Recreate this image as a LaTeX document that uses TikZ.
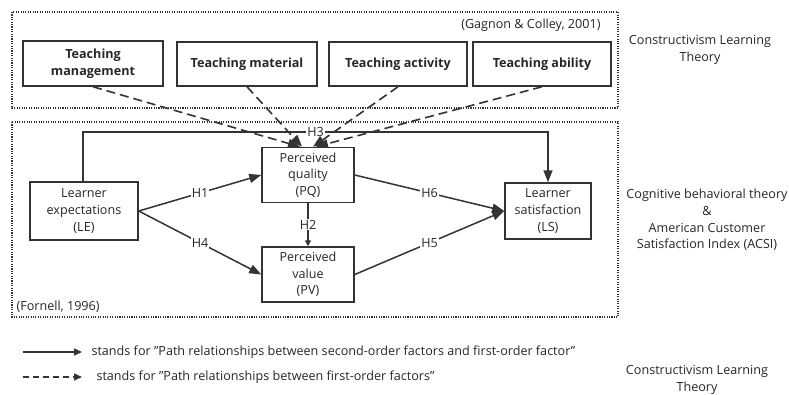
\documentclass[tikz,border=0pt]{standalone}
\usepackage{fontspec}
\setmainfont{Open Sans}[Ligatures=ResetAll]
\usetikzlibrary{arrows.meta}

\begin{document}
\begin{tikzpicture}[x=1pt,y=-1pt,
  font=\fontsize{12.6}{16.6}\selectfont,
  every node/.style={text=black!85},
  box/.style={draw=black!80,line width=1.5pt,align=center,inner sep=0pt},
  frame/.style={draw=black!80,line width=1.1pt,dash pattern=on 1.1pt off 1.3pt},
  path/.style={draw=black!80,line width=1.5pt,-{Triangle[length=12pt,width=9pt]}},
  firstorder/.style={path,line width=1.6pt,dash pattern=on 9pt off 5pt},
  hyp/.style={fill=white,inner sep=1pt}]
\useasboundingbox (0,0) rectangle (789,394);

% frames
\draw[frame] (12,12) rectangle (618,108);
\draw[frame] (12,122) rectangle (618,317);
\node (gc) at (604,25) [anchor=east] {(Gagnon \& Colley, 2001)};
\node (fo) at (13,307) [anchor=west] {(Fornell, 1996)};

% first-order factors
\node[box,minimum width=140pt,minimum height=45pt,font=\fontsize{12.6}{16.6}\selectfont\bfseries] (tm) at (93,63.5) {Teaching\\management};
\node[box,minimum width=140pt,minimum height=44pt,font=\fontsize{12.6}{16.6}\selectfont\bfseries] (tmat) at (247,64) {Teaching material};
\node[box,minimum width=138pt,minimum height=44pt,font=\fontsize{12.6}{16.6}\selectfont\bfseries] (tact) at (398,64) {Teaching activity};
\node[box,minimum width=138pt,minimum height=44pt,font=\fontsize{12.6}{16.6}\selectfont\bfseries] (tab) at (542,64) {Teaching ability};

% second-order factors
\node[box,minimum width=108pt,minimum height=58pt] (le) at (84,211) {Learner\\expectations\\(LE)};
\node[box,minimum width=92pt,minimum height=55pt] (pq) at (308,175) {Perceived\\quality\\(PQ)};
\node[box,minimum width=92pt,minimum height=55pt] (pv) at (308,274.5) {Perceived\\value\\(PV)};
\node[box,minimum width=86pt,minimum height=56pt] (ls) at (548,211) {Learner\\satisfaction\\(LS)};

\draw[path] (le.north -| 83,0) -- (83,132) -- node[hyp,pos=0.5] (h3) {H3} (548,132) -- (ls.north);
\draw[path] (le.east) -- node[hyp] (h1) {H1} (pq.west);
\draw[path] (le.east) -- node[hyp] (h4) {H4} (pv.west);
\draw[path] (pq.east) -- node[hyp] (h6) {H6} (ls.west);
\draw[path] (pv.east) -- node[hyp] (h5) {H5} (ls.west);
\draw[draw=black!80,line width=1.5pt,-{Triangle[length=6pt,width=6pt]}] (pq.south) -- node[hyp] (h2) {H2} (pv.north);

\draw[firstorder] (tm.south) -- ([xshift=-8pt]pq.north);
\draw[firstorder] (tmat.south) -- ([xshift=-6pt]pq.north);
\draw[firstorder] (tact.south) -- ([xshift=5pt]pq.north);
\draw[firstorder] (tab.south) -- ([xshift=8pt]pq.north);

% theories
\node[align=center] (clt) at (700,50) {Constructivism Learning\\Theory};
\node[align=center] (cbt) at (707,220) {Cognitive behavioral theory\\\&\\American Customer\\Satisfaction Index (ACSI)};

% legend
\coordinate (la) at (23,352);
\coordinate (lb) at (82,352);
\coordinate (lc) at (23,377);
\coordinate (ld) at (82,377);
\draw[draw=black!80,line width=1.5pt,-{Triangle[length=8pt,width=7pt]}] (la) -- (lb);
\draw[draw=black!80,line width=1.5pt,dash pattern=on 6pt off 4pt,-{Triangle[length=8pt,width=7pt]}] (lc) -- (ld);
\node (lt1) at (88,352) [anchor=west] {stands for "Path relationships between second-order factors and first-order factor"};
\node (lt2) at (93,377) [anchor=west] {stands for "Path relationships between first-order factors"};
\node[align=center] (clt2) at (697,380) {Constructivism Learning\\Theory};
\end{tikzpicture}
\end{document}
